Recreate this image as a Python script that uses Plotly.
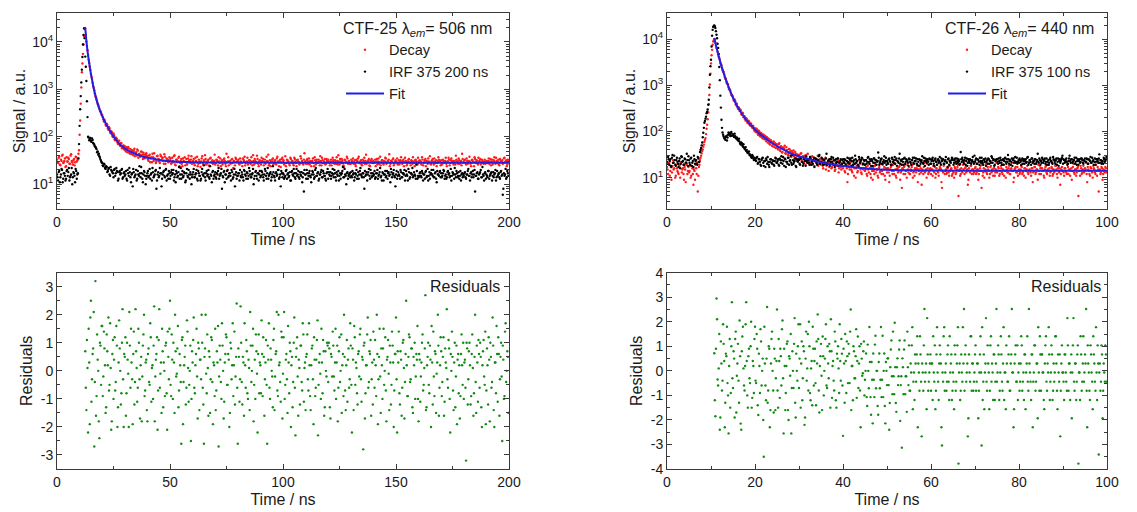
import plotly.graph_objects as go

# ---------------- CTF-25 (200 ns window) ----------------
# even channels
t_25 = [
    0, 0.5, 1, 1.5, 2, 2.5, 3, 3.5, 4, 4.5, 5, 5.5, 6, 6.5, 7, 7.5, 8, 8.5, 9, 9.5,
    10, 10.5, 11, 11.5, 12, 12.5, 13, 13.5, 14, 14.5, 15, 15.5, 16, 16.5, 17, 17.5, 18, 18.5, 19, 19.5,
    20, 20.5, 21, 21.5, 22, 22.5, 23, 23.5, 24, 24.5, 25, 25.5, 26, 26.5, 27, 27.5, 28, 28.5, 29, 29.5,
    30, 30.5, 31, 31.5, 32, 32.5, 33, 33.5, 34, 34.5, 35, 35.5, 36, 36.5, 37, 37.5, 38, 38.5, 39, 39.5,
    40, 40.5, 41, 41.5, 42, 42.5, 43, 43.5, 44, 44.5, 45, 45.5, 46, 46.5, 47, 47.5, 48, 48.5, 49, 49.5,
    50, 50.5, 51, 51.5, 52, 52.5, 53, 53.5, 54, 54.5, 55, 55.5, 56, 56.5, 57, 57.5, 58, 58.5, 59, 59.5,
    60, 60.5, 61, 61.5, 62, 62.5, 63, 63.5, 64, 64.5, 65, 65.5, 66, 66.5, 67, 67.5, 68, 68.5, 69, 69.5,
    70, 70.5, 71, 71.5, 72, 72.5, 73, 73.5, 74, 74.5, 75, 75.5, 76, 76.5, 77, 77.5, 78, 78.5, 79, 79.5,
    80, 80.5, 81, 81.5, 82, 82.5, 83, 83.5, 84, 84.5, 85, 85.5, 86, 86.5, 87, 87.5, 88, 88.5, 89, 89.5,
    90, 90.5, 91, 91.5, 92, 92.5, 93, 93.5, 94, 94.5, 95, 95.5, 96, 96.5, 97, 97.5, 98, 98.5, 99, 99.5,
    100, 100.5, 101, 101.5, 102, 102.5, 103, 103.5, 104, 104.5, 105, 105.5, 106, 106.5, 107, 107.5, 108, 108.5, 109, 109.5,
    110, 110.5, 111, 111.5, 112, 112.5, 113, 113.5, 114, 114.5, 115, 115.5, 116, 116.5, 117, 117.5, 118, 118.5, 119, 119.5,
    120, 120.5, 121, 121.5, 122, 122.5, 123, 123.5, 124, 124.5, 125, 125.5, 126, 126.5, 127, 127.5, 128, 128.5, 129, 129.5,
    130, 130.5, 131, 131.5, 132, 132.5, 133, 133.5, 134, 134.5, 135, 135.5, 136, 136.5, 137, 137.5, 138, 138.5, 139, 139.5,
    140, 140.5, 141, 141.5, 142, 142.5, 143, 143.5, 144, 144.5, 145, 145.5, 146, 146.5, 147, 147.5, 148, 148.5, 149, 149.5,
    150, 150.5, 151, 151.5, 152, 152.5, 153, 153.5, 154, 154.5, 155, 155.5, 156, 156.5, 157, 157.5, 158, 158.5, 159, 159.5,
    160, 160.5, 161, 161.5, 162, 162.5, 163, 163.5, 164, 164.5, 165, 165.5, 166, 166.5, 167, 167.5, 168, 168.5, 169, 169.5,
    170, 170.5, 171, 171.5, 172, 172.5, 173, 173.5, 174, 174.5, 175, 175.5, 176, 176.5, 177, 177.5, 178, 178.5, 179, 179.5,
    180, 180.5, 181, 181.5, 182, 182.5, 183, 183.5, 184, 184.5, 185, 185.5, 186, 186.5, 187, 187.5, 188, 188.5, 189, 189.5,
    190, 190.5, 191, 191.5, 192, 192.5, 193, 193.5, 194, 194.5, 195, 195.5, 196, 196.5, 197, 197.5, 198, 198.5, 199, 199.5,
]
# odd channels
t_25_mid = [
    0.25, 0.75, 1.25, 1.75, 2.25, 2.75, 3.25, 3.75, 4.25, 4.75, 5.25, 5.75, 6.25, 6.75, 7.25, 7.75, 8.25, 8.75, 9.25, 9.75,
    10.25, 10.75, 11.25, 11.75, 12.25, 12.75, 13.25, 13.75, 14.25, 14.75, 15.25, 15.75, 16.25, 16.75, 17.25, 17.75, 18.25, 18.75, 19.25, 19.75,
    20.25, 20.75, 21.25, 21.75, 22.25, 22.75, 23.25, 23.75, 24.25, 24.75, 25.25, 25.75, 26.25, 26.75, 27.25, 27.75, 28.25, 28.75, 29.25, 29.75,
    30.25, 30.75, 31.25, 31.75, 32.25, 32.75, 33.25, 33.75, 34.25, 34.75, 35.25, 35.75, 36.25, 36.75, 37.25, 37.75, 38.25, 38.75, 39.25, 39.75,
    40.25, 40.75, 41.25, 41.75, 42.25, 42.75, 43.25, 43.75, 44.25, 44.75, 45.25, 45.75, 46.25, 46.75, 47.25, 47.75, 48.25, 48.75, 49.25, 49.75,
    50.25, 50.75, 51.25, 51.75, 52.25, 52.75, 53.25, 53.75, 54.25, 54.75, 55.25, 55.75, 56.25, 56.75, 57.25, 57.75, 58.25, 58.75, 59.25, 59.75,
    60.25, 60.75, 61.25, 61.75, 62.25, 62.75, 63.25, 63.75, 64.25, 64.75, 65.25, 65.75, 66.25, 66.75, 67.25, 67.75, 68.25, 68.75, 69.25, 69.75,
    70.25, 70.75, 71.25, 71.75, 72.25, 72.75, 73.25, 73.75, 74.25, 74.75, 75.25, 75.75, 76.25, 76.75, 77.25, 77.75, 78.25, 78.75, 79.25, 79.75,
    80.25, 80.75, 81.25, 81.75, 82.25, 82.75, 83.25, 83.75, 84.25, 84.75, 85.25, 85.75, 86.25, 86.75, 87.25, 87.75, 88.25, 88.75, 89.25, 89.75,
    90.25, 90.75, 91.25, 91.75, 92.25, 92.75, 93.25, 93.75, 94.25, 94.75, 95.25, 95.75, 96.25, 96.75, 97.25, 97.75, 98.25, 98.75, 99.25, 99.75,
    100.25, 100.75, 101.25, 101.75, 102.25, 102.75, 103.25, 103.75, 104.25, 104.75, 105.25, 105.75, 106.25, 106.75, 107.25, 107.75, 108.25, 108.75, 109.25, 109.75,
    110.25, 110.75, 111.25, 111.75, 112.25, 112.75, 113.25, 113.75, 114.25, 114.75, 115.25, 115.75, 116.25, 116.75, 117.25, 117.75, 118.25, 118.75, 119.25, 119.75,
    120.25, 120.75, 121.25, 121.75, 122.25, 122.75, 123.25, 123.75, 124.25, 124.75, 125.25, 125.75, 126.25, 126.75, 127.25, 127.75, 128.25, 128.75, 129.25, 129.75,
    130.25, 130.75, 131.25, 131.75, 132.25, 132.75, 133.25, 133.75, 134.25, 134.75, 135.25, 135.75, 136.25, 136.75, 137.25, 137.75, 138.25, 138.75, 139.25, 139.75,
    140.25, 140.75, 141.25, 141.75, 142.25, 142.75, 143.25, 143.75, 144.25, 144.75, 145.25, 145.75, 146.25, 146.75, 147.25, 147.75, 148.25, 148.75, 149.25, 149.75,
    150.25, 150.75, 151.25, 151.75, 152.25, 152.75, 153.25, 153.75, 154.25, 154.75, 155.25, 155.75, 156.25, 156.75, 157.25, 157.75, 158.25, 158.75, 159.25, 159.75,
    160.25, 160.75, 161.25, 161.75, 162.25, 162.75, 163.25, 163.75, 164.25, 164.75, 165.25, 165.75, 166.25, 166.75, 167.25, 167.75, 168.25, 168.75, 169.25, 169.75,
    170.25, 170.75, 171.25, 171.75, 172.25, 172.75, 173.25, 173.75, 174.25, 174.75, 175.25, 175.75, 176.25, 176.75, 177.25, 177.75, 178.25, 178.75, 179.25, 179.75,
    180.25, 180.75, 181.25, 181.75, 182.25, 182.75, 183.25, 183.75, 184.25, 184.75, 185.25, 185.75, 186.25, 186.75, 187.25, 187.75, 188.25, 188.75, 189.25, 189.75,
    190.25, 190.75, 191.25, 191.75, 192.25, 192.75, 193.25, 193.75, 194.25, 194.75, 195.25, 195.75, 196.25, 196.75, 197.25, 197.75, 198.25, 198.75, 199.25, 199.75,
]

decay_25 = [
    33, 28, 38, 25, 31, 42, 29, 35, 24, 30, 36, 27, 40, 31, 26, 34, 29, 37, 32, 44,
    110, 500, 2300, 5600, 13000, 19500, 10200, 6700, 4200, 3050, 2100, 1650, 1170, 960, 720, 610, 490, 430, 350, 320,
    290, 232, 228, 180, 188, 150, 162, 128, 131, 104, 118, 88, 97, 90, 70, 83, 64, 74, 58, 66,
    63, 49, 58, 61, 46, 55, 43, 52, 50, 39, 47, 54, 36, 44, 41, 48, 34, 42, 39, 45,
    38, 31, 42, 35, 29, 37, 45, 33, 30, 40, 34, 28, 39, 36, 31, 43, 27, 35, 33, 30,
    32, 27, 36, 29, 41, 25, 33, 30, 38, 28, 34, 24, 31, 37, 29, 26, 35, 32, 28, 39,
    29, 34, 25, 31, 38, 27, 30, 23, 35, 28, 32, 41, 26, 30, 33, 24, 36, 29, 27, 31,
    26, 33, 30, 37, 28, 24, 32, 29, 35, 27, 44, 30, 25, 31, 28, 34, 22, 30, 36, 29,
    31, 27, 35, 29, 24, 33, 38, 28, 30, 26, 32, 29, 37, 25, 31, 34, 28, 40, 27, 30,
    28, 36, 30, 25, 33, 29, 31, 42, 27, 24, 30, 35, 28, 32, 26, 38, 29, 31, 23, 34,
    30, 26, 39, 28, 32, 29, 25, 34, 31, 27, 36, 30, 24, 33, 29, 28, 35, 31, 26, 45,
    29, 32, 27, 35, 30, 24, 31, 28, 37, 26, 33, 29, 30, 39, 25, 32, 28, 34, 27, 31,
    33, 28, 30, 25, 36, 29, 32, 27, 31, 41, 26, 30, 34, 28, 23, 32, 29, 35, 30, 27,
    27, 31, 35, 29, 26, 33, 30, 38, 28, 32, 25, 29, 36, 31, 27, 30, 34, 24, 32, 29,
    31, 29, 24, 34, 30, 27, 38, 29, 32, 26, 30, 35, 28, 31, 43, 27, 30, 33, 25, 29,
    30, 35, 28, 26, 32, 29, 31, 24, 36, 30, 27, 33, 29, 25, 31, 37, 28, 32, 30, 26,
    28, 32, 30, 37, 25, 29, 34, 31, 27, 30, 39, 26, 32, 29, 35, 28, 24, 31, 33, 30,
    32, 27, 31, 29, 36, 24, 30, 33, 28, 35, 29, 26, 31, 40, 30, 27, 32, 29, 25, 34,
    29, 33, 26, 31, 30, 38, 27, 32, 29, 24, 34, 30, 28, 36, 31, 26, 33, 29, 30, 27,
    31, 28, 35, 30, 25, 33, 29, 37, 27, 31, 30, 26, 34, 29, 32, 28, 36, 30, 24, 33,
]
decay_25_mid = [
    29, 36, 26, 33, 40, 28, 31, 23, 37, 30, 34, 27, 43, 29, 32, 25, 38, 30, 35, 52,
    220, 1100, 3500, 8800, 18500, 14000, 8200, 5300, 3600, 2550, 1850, 1380, 1080, 820, 680, 540, 470, 390, 345, 290,
    262, 210, 214, 171, 180, 141, 151, 118, 125, 99, 108, 84, 93, 76, 82, 67, 73, 57, 65, 54,
    52, 60, 47, 57, 44, 53, 49, 41, 56, 45, 40, 51, 43, 38, 49, 42, 46, 35, 43, 40,
    33, 40, 29, 37, 44, 31, 35, 28, 39, 33, 30, 42, 32, 36, 27, 38, 31, 34, 29, 37,
    35, 28, 31, 39, 26, 33, 29, 36, 24, 31, 27, 35, 30, 25, 34, 28, 40, 30, 33, 27,
    31, 27, 36, 29, 24, 33, 28, 30, 39, 26, 30, 34, 27, 31, 25, 35, 29, 32, 28, 42,
    28, 32, 25, 30, 35, 29, 26, 33, 31, 24, 29, 37, 30, 27, 33, 28, 31, 25, 34, 30,
    33, 26, 30, 28, 35, 31, 25, 29, 36, 28, 32, 27, 30, 41, 26, 31, 29, 34, 24, 32,
    26, 31, 34, 29, 27, 38, 30, 25, 32, 29, 33, 26, 31, 28, 35, 30, 24, 33, 29, 36,
    32, 28, 24, 33, 30, 27, 36, 29, 31, 25, 34, 28, 32, 30, 26, 39, 29, 27, 33, 30,
    27, 34, 30, 26, 31, 29, 35, 24, 32, 30, 28, 33, 25, 31, 36, 28, 30, 26, 34, 29,
    30, 25, 33, 29, 32, 27, 31, 37, 26, 30, 34, 28, 31, 25, 33, 29, 38, 27, 31, 28,
    33, 29, 27, 32, 24, 31, 35, 28, 30, 26, 33, 31, 27, 42, 29, 32, 25, 30, 34, 28,
    28, 33, 30, 26, 35, 29, 25, 32, 28, 31, 36, 27, 30, 33, 24, 31, 29, 35, 27, 32,
    29, 26, 32, 30, 37, 27, 33, 29, 31, 25, 30, 34, 28, 32, 27, 30, 24, 33, 29, 36,
    31, 29, 26, 33, 28, 32, 24, 30, 35, 29, 27, 31, 34, 26, 30, 32, 28, 37, 30, 25,
    26, 33, 29, 31, 27, 30, 36, 25, 32, 29, 31, 28, 26, 33, 30, 35, 27, 31, 44, 29,
    32, 28, 35, 27, 31, 29, 24, 33, 30, 37, 28, 32, 26, 30, 34, 29, 31, 27, 33, 30,
    28, 31, 27, 34, 30, 26, 32, 29, 36, 28, 33, 25, 31, 30, 27, 35, 29, 32, 26, 31,
]

irf_25 = [
    16, 12, 19, 14, 21, 11, 17, 15, 13, 20, 18, 12, 15, 22, 14, 17, 11, 19, 16, 35,
    170, 720, 2600, 8800, 19500, 4900, 1500, 260, 96, 88, 82, 92, 74, 68, 61, 55, 49, 44, 36, 31,
    28, 24, 26, 21, 23, 19, 22, 15, 20, 18, 14, 21, 17, 19, 12, 18, 16, 20, 13, 17,
    15, 19, 12, 17, 22, 14, 16, 9, 18, 15, 20, 13, 16, 24, 14, 17, 11, 19, 15, 13,
    17, 14, 21, 16, 12, 18, 15, 19, 8, 16, 14, 22, 17, 13, 18, 15, 20, 12, 16, 19,
    13, 18, 16, 20, 14, 11, 17, 15, 23, 16, 13, 19, 15, 17, 12, 21, 14, 16, 18, 10,
    16, 21, 14, 17, 13, 19, 15, 12, 18, 16, 25, 14, 17, 15, 20, 13, 16, 11, 19, 15,
    18, 13, 16, 22, 15, 17, 8, 14, 19, 16, 13, 20, 15, 17, 12, 18, 14, 21, 16, 13,
    15, 17, 20, 14, 16, 12, 19, 15, 18, 13, 22, 16, 14, 17, 10, 15, 19, 13, 17, 16,
    14, 19, 16, 12, 21, 15, 17, 13, 16, 18, 14, 24, 15, 12, 18, 16, 20, 14, 9, 17,
    17, 13, 15, 20, 16, 14, 18, 12, 19, 15, 17, 13, 21, 16, 14, 18, 15, 11, 17, 20,
    16, 20, 13, 17, 15, 11, 19, 16, 14, 22, 15, 18, 13, 16, 20, 14, 17, 15, 12, 18,
    13, 16, 18, 15, 21, 14, 17, 12, 16, 19, 15, 13, 17, 23, 14, 16, 10, 18, 15, 17,
    18, 14, 16, 12, 17, 20, 15, 13, 19, 16, 14, 17, 8, 15, 18, 16, 21, 13, 17, 15,
    15, 19, 14, 17, 13, 16, 22, 15, 18, 12, 16, 14, 19, 17, 15, 11, 18, 16, 20, 14,
    16, 13, 18, 15, 20, 14, 17, 16, 12, 19, 15, 21, 13, 17, 16, 14, 18, 15, 26, 13,
    14, 17, 15, 19, 12, 16, 18, 14, 21, 15, 13, 17, 16, 20, 14, 18, 11, 16, 15, 19,
    17, 15, 20, 13, 16, 14, 19, 17, 15, 12, 18, 16, 22, 14, 17, 15, 13, 19, 16, 14,
    15, 18, 13, 16, 21, 15, 17, 14, 19, 16, 7, 15, 18, 13, 17, 20, 14, 16, 12, 18,
    16, 14, 19, 15, 17, 12, 18, 16, 20, 14, 15, 17, 13, 19, 16, 8, 15, 21, 14, 17,
]
irf_25_mid = [
    14, 18, 11, 16, 20, 13, 17, 12, 19, 15, 22, 14, 16, 10, 18, 15, 21, 13, 17, 70,
    380, 1400, 4800, 14000, 12000, 3000, 560, 100, 84, 95, 78, 86, 71, 63, 58, 47, 42, 39, 33, 29,
    25, 27, 22, 24, 18, 21, 16, 23, 19, 17, 20, 15, 22, 18, 13, 19, 17, 21, 14, 18,
    16, 13, 20, 15, 18, 11, 17, 21, 14, 16, 12, 19, 15, 17, 23, 13, 16, 18, 10, 15,
    19, 15, 13, 17, 22, 14, 16, 20, 12, 18, 15, 17, 9, 16, 19, 14, 21, 15, 13, 17,
    15, 20, 17, 12, 16, 19, 14, 18, 13, 22, 16, 14, 18, 11, 17, 15, 20, 13, 16, 14,
    18, 14, 16, 20, 12, 17, 15, 13, 21, 15, 17, 12, 19, 16, 14, 24, 15, 18, 13, 16,
    14, 17, 19, 13, 16, 21, 15, 18, 11, 16, 19, 14, 17, 15, 20, 13, 16, 9, 18, 15,
    17, 12, 15, 18, 14, 20, 16, 13, 17, 15, 19, 14, 16, 21, 13, 18, 15, 17, 12, 19,
    15, 18, 14, 16, 19, 13, 22, 15, 17, 12, 16, 18, 14, 17, 15, 20, 13, 16, 19, 14,
    16, 14, 19, 13, 17, 15, 12, 18, 16, 21, 14, 17, 15, 19, 13, 16, 18, 14, 7, 16,
    13, 17, 15, 19, 14, 16, 18, 13, 20, 15, 17, 12, 16, 18, 14, 19, 15, 13, 17, 21,
    18, 15, 13, 17, 16, 20, 14, 18, 15, 12, 17, 16, 19, 14, 21, 15, 17, 13, 16, 14,
    15, 19, 17, 14, 16, 13, 18, 16, 22, 15, 17, 14, 19, 16, 12, 18, 15, 20, 14, 17,
    16, 13, 17, 20, 15, 18, 14, 12, 17, 16, 19, 15, 13, 18, 16, 21, 14, 17, 15, 9,
    19, 15, 16, 13, 18, 14, 17, 20, 15, 16, 12, 18, 14, 17, 22, 15, 16, 13, 19, 15,
    15, 18, 14, 17, 16, 13, 19, 15, 12, 18, 16, 20, 15, 14, 17, 13, 19, 16, 18, 14,
    14, 17, 19, 15, 13, 18, 16, 14, 21, 15, 17, 13, 16, 19, 14, 18, 15, 12, 17, 16,
    17, 14, 16, 19, 15, 12, 18, 16, 14, 20, 15, 17, 13, 16, 18, 14, 23, 15, 17, 13,
    15, 19, 13, 16, 18, 15, 14, 17, 12, 19, 16, 14, 18, 15, 6, 17, 16, 13, 19, 15,
]

# weighted residuals from the first fitted channel onward (12.5 ns / 12.75 ns)
res_25 = [
    0.7, -1.4, 0.1, 1.5, -1.9, 2.5, -0.3, 0.8, -2.7, 3.2, -0.9, 0.4, -1.8, 1.0, -0.5,
    1.6, -0.2, 0.8, -1.5, 1.3, 0.2, -0.7, 1.7, -2.1, 0.6, -1.0, 1.2, -0.4, 0.9, -1.3, 1.8, 0.0, -0.8, 2.2, -2.0,
    0.5, -1.6, 1.0, -0.1, 2.1, -0.6, 0.3, -1.9, 1.4, -0.4, 0.7, -1.1, 1.5, -0.3, 0.2, -1.8, 0.9, 2.0, -0.7, 0.4,
    -1.8, 0.8, -0.5, 1.2, 0.1, -1.0, 2.3, -0.2, 0.6, -2.1, 1.1, -0.6, 0.3, 1.5, -1.3, 0.0, 0.9, -0.8, 1.4, -0.3,
    2.5, -0.9, 0.4, 1.0, -1.5, 0.7, -0.1, 1.6, -0.7, 0.2, -2.6, 1.2, -0.4, 0.5, -1.2, 1.8, 0.1, -0.5, 0.9, -1.0,
    0.3, 1.9, -0.8, 0.6, -0.2, 1.0, -1.4, 0.4, 2.0, -0.6, -2.6, 0.8, -0.1, 1.3, -1.6, 0.5, -0.3, 1.1, -1.9, 0.2,
    1.5, -0.7, 0.3, -2.7, 0.9, -0.4, 1.7, 0.0, -1.1, 0.6, 1.2, -0.5, 0.4, -1.5, 0.8, 0.2, -0.9, 1.4, -0.2, 2.4,
    -2.6, 0.5, -0.3, 1.0, -1.2, 0.3, 1.7, -0.6, 0.7, -1.0, 0.1, 2.1, -0.4, 0.9, -1.8, 0.4, 1.3, -0.1, 0.6, -0.8,
    0.2, 1.8, -0.9, 0.5, -0.3, 1.1, -2.6, 0.4, -0.6, 0.8, 0.0, -1.3, 1.5, -0.2, 0.7, -0.7, 2.0, 0.3, -1.1, 1.2,
    -0.1, 2.1, -0.5, 0.6, -1.5, 0.3, 1.0, -2.0, 0.5, -0.4, 1.9, -2.3, 0.8, -0.2, 0.4, -1.2, 0.9, -0.7, 1.3, 0.1,
    -1.4, 0.6, -0.3, 1.7, -0.9, 0.2, 0.9, -1.9, 0.4, -0.6, 1.1, -2.3, 0.3, -0.1, 1.5, -0.8, 0.7, -1.3, 0.0, 1.0,
    -0.4, 0.8, -1.7, 0.5, 1.4, -0.2, 0.3, -1.0, 0.9, -0.6, 1.2, 0.0, -1.5, 0.6, 2.0, -0.7, 0.2, -1.1, 0.8, -0.3,
    0.9, -2.2, 0.4, 1.6, -0.5, 0.1, -1.2, 0.7, 1.3, -0.3, 0.5, -2.8, 1.0, -0.8, 0.2, 1.9, -0.4, 0.6, -1.6, 0.3,
    1.4, -0.6, 0.2, 2.0, -1.9, 0.5, -0.2, 0.8, -1.0, 1.5, 0.0, -0.7, 0.4, 1.1, -1.4, 0.3, -0.5, 0.9, -2.0, 0.6,
    1.9, -2.2, 0.3, -0.8, 0.7, -1.6, 1.0, 0.1, -0.4, 2.5, -0.9, 0.5, 1.2, -0.3, 0.8, -1.5, 0.2, -1.0, 0.6, 1.6,
    -1.8, 0.4, -0.2, 1.0, -0.7, 0.1, 2.7, -1.3, 0.5, -0.5, 0.9, -2.0, 0.3, 1.4, -0.9, 0.6, -0.1, 2.0, -1.6, 0.2,
    0.7, -0.4, 1.2, -1.1, 0.3, 2.2, -0.6, 0.8, -2.2, 0.0, 0.5, -1.4, 1.0, -0.2, -1.9, 0.6, 0.2, -0.9, 1.3, -0.5,
    -1.0, 0.4, -3.2, 0.8, -0.3, 1.0, -1.2, 0.6, 0.1, -0.8, 2.0, -1.5, 0.3, 1.1, -0.6, 0.5, -2.0, 0.7, -0.2, 1.4,
    -0.7, 0.2, 1.2, -1.8, 0.5, -0.4, 0.9, -2.0, 0.3, 1.6, -1.1, 0.6, -0.3, 1.0, -2.5, 0.4, -0.9, 1.7, 0.0, 0.5,
]
res_25_mid = [
    -0.6, 1.1, -2.2, 0.3, 1.9, -1.1, 0.6, 2.1, -0.4, -1.6, 1.3, 0.0, -2.4, 0.9, 1.6,
    -0.9, 1.4, 0.2, -1.3, 0.7, 1.9, -0.5, 0.1, -1.8, 1.1, 0.4, -0.7, 1.6, -2.0, 0.3, 0.8, -1.2, 1.0, -0.3, 0.6,
    1.2, -0.8, 0.4, -2.0, 0.9, 1.5, -0.3, 0.6, -1.2, 2.2, 0.1, -0.6, 1.0, -1.7, 0.5, -0.2, 1.3, -0.9, 0.3, -1.4,
    0.6, -0.4, 1.7, -1.1, 0.2, 0.9, -1.8, 0.4, 1.2, -0.7, 2.2, -0.1, -1.5, 0.7, 0.3, -0.9, 1.0, -2.1, 0.5, 1.5,
    -0.5, 1.3, -1.0, 0.3, 2.0, -0.2, 0.8, -1.3, 0.6, -0.4, 1.1, -1.9, 0.2, 0.9, -0.6, 1.4, -1.1, 0.0, -2.5, 0.7,
    1.1, -0.6, 0.2, 1.5, -1.7, 0.8, 0.4, -0.3, 1.0, -1.2, 0.5, 2.0, -0.8, 0.1, 0.7, -1.5, 1.2, -0.4, 0.3, -0.9,
    -1.4, 0.7, 1.6, -0.2, 0.4, -1.0, 0.9, -1.7, 0.3, 1.3, -0.5, 0.6, -2.0, 1.0, -0.3, 1.7, 0.2, -1.2, 0.5, -0.6,
    0.8, -1.1, 2.3, -0.4, 0.5, -1.6, 0.2, 1.1, -0.8, 0.4, -1.4, 0.9, 0.0, 1.5, -0.5, -1.0, 0.7, -2.2, 1.3, 0.3,
    -0.8, 0.6, 1.2, -1.6, 0.3, -0.5, 0.9, 1.7, -1.0, 0.4, -0.2, 1.1, -1.4, 0.6, 2.1, -0.9, 0.2, -0.4, 1.4, -1.7,
    1.2, -1.0, 0.4, -0.3, 1.6, -0.8, 0.7, 0.2, -1.3, 1.0, -0.6, 0.5, 1.2, -1.6, 0.1, 0.9, -0.4, 1.7, -1.1, 0.3,
    0.5, 1.3, -0.7, 0.2, -1.4, 0.8, -0.3, 1.2, -0.9, 0.4, 1.8, -0.5, 0.6, -1.0, 0.3, 1.1, -1.6, 0.7, -0.2, 0.9,
    1.0, -1.3, 0.6, -0.2, 0.9, -0.7, 1.5, 0.3, -1.8, 0.7, -0.4, 1.3, 0.2, -0.9, 0.5, -1.4, 1.1, 0.4, -0.6, 1.7,
    -0.5, 0.8, -1.4, 1.2, 0.3, -0.8, 0.6, -0.2, 1.5, -1.1, 0.4, 0.9, -1.7, 0.2, 1.3, -0.6, 0.7, 1.1, -0.3, -1.2,
    0.4, 1.1, -0.9, 0.6, -0.3, 1.5, -1.5, 0.2, 0.8, -0.5, 1.2, -1.8, 0.5, -0.1, 0.9, -1.2, 1.4, 0.3, -0.7, 0.6,
    -0.3, 0.7, 1.4, -1.2, 0.4, -0.6, 1.1, -1.7, 0.6, 0.2, -0.9, 1.3, -0.4, 0.8, -1.3, 0.5, 1.0, -0.2, 0.4, -1.0,
    0.6, -1.1, 0.3, 1.3, -0.5, 0.8, -1.4, 0.2, 1.0, -0.8, 0.4, 1.6, -1.2, -0.2, 0.7, -1.5, 0.3, 0.9, -0.6, 1.2,
    -0.9, 0.5, -1.6, 0.8, 0.1, -0.3, 1.1, -1.0, 0.6, 1.4, -0.7, 0.3, -1.3, 0.9, 0.4, -0.8, -1.7, 0.6, 0.2, 1.0,
    0.3, -0.6, 1.0, -1.2, 0.7, 0.2, -0.9, 1.3, -1.6, 0.5, -0.4, 0.9, -1.1, 0.6, 1.0, -1.3, 0.2, 1.1, -0.5, -1.9,
    0.8, -1.2, 0.4, 1.0, -0.6, 1.9, -1.4, 0.3, -0.8, 0.6, 1.2, -1.6, 0.5, -0.2, 0.9, -1.0, 1.4, -0.4, 0.7, -1.5,
]

fit_t_25 = [12.2, 12.5, 13, 13.5, 14, 14.5, 15, 15.5, 16, 16.5, 17, 17.5, 18, 18.5, 19, 20, 21, 22, 23, 24,
            25, 26, 27, 28, 30, 32, 34, 36, 38, 40, 43, 46, 50, 55, 60, 70, 80, 100, 130, 160, 200]
fit_25 = [20500, 19000, 10500, 6500, 4300, 3000, 2150, 1600, 1200, 930, 740, 600, 500, 420, 360, 275, 215, 175, 145, 120,
          102, 88, 77, 68, 57, 50, 45, 41, 38, 36, 34, 32, 30.5, 29.5, 29, 28.7, 28.6, 28.5, 28.4, 28.4, 28.4]

# ---------------- CTF-26 (100 ns window) ----------------
t_26 = [
    0, 0.25, 0.5, 0.75, 1, 1.25, 1.5, 1.75, 2, 2.25, 2.5, 2.75, 3, 3.25, 3.5, 3.75, 4, 4.25, 4.5, 4.75,
    5, 5.25, 5.5, 5.75, 6, 6.25, 6.5, 6.75, 7, 7.25, 7.5, 7.75, 8, 8.25, 8.5, 8.75, 9, 9.25, 9.5, 9.75,
    10, 10.25, 10.5, 10.75, 11, 11.25, 11.5, 11.75, 12, 12.25, 12.5, 12.75, 13, 13.25, 13.5, 13.75, 14, 14.25, 14.5, 14.75,
    15, 15.25, 15.5, 15.75, 16, 16.25, 16.5, 16.75, 17, 17.25, 17.5, 17.75, 18, 18.25, 18.5, 18.75, 19, 19.25, 19.5, 19.75,
    20, 20.25, 20.5, 20.75, 21, 21.25, 21.5, 21.75, 22, 22.25, 22.5, 22.75, 23, 23.25, 23.5, 23.75, 24, 24.25, 24.5, 24.75,
    25, 25.25, 25.5, 25.75, 26, 26.25, 26.5, 26.75, 27, 27.25, 27.5, 27.75, 28, 28.25, 28.5, 28.75, 29, 29.25, 29.5, 29.75,
    30, 30.25, 30.5, 30.75, 31, 31.25, 31.5, 31.75, 32, 32.25, 32.5, 32.75, 33, 33.25, 33.5, 33.75, 34, 34.25, 34.5, 34.75,
    35, 35.25, 35.5, 35.75, 36, 36.25, 36.5, 36.75, 37, 37.25, 37.5, 37.75, 38, 38.25, 38.5, 38.75, 39, 39.25, 39.5, 39.75,
    40, 40.25, 40.5, 40.75, 41, 41.25, 41.5, 41.75, 42, 42.25, 42.5, 42.75, 43, 43.25, 43.5, 43.75, 44, 44.25, 44.5, 44.75,
    45, 45.25, 45.5, 45.75, 46, 46.25, 46.5, 46.75, 47, 47.25, 47.5, 47.75, 48, 48.25, 48.5, 48.75, 49, 49.25, 49.5, 49.75,
    50, 50.25, 50.5, 50.75, 51, 51.25, 51.5, 51.75, 52, 52.25, 52.5, 52.75, 53, 53.25, 53.5, 53.75, 54, 54.25, 54.5, 54.75,
    55, 55.25, 55.5, 55.75, 56, 56.25, 56.5, 56.75, 57, 57.25, 57.5, 57.75, 58, 58.25, 58.5, 58.75, 59, 59.25, 59.5, 59.75,
    60, 60.25, 60.5, 60.75, 61, 61.25, 61.5, 61.75, 62, 62.25, 62.5, 62.75, 63, 63.25, 63.5, 63.75, 64, 64.25, 64.5, 64.75,
    65, 65.25, 65.5, 65.75, 66, 66.25, 66.5, 66.75, 67, 67.25, 67.5, 67.75, 68, 68.25, 68.5, 68.75, 69, 69.25, 69.5, 69.75,
    70, 70.25, 70.5, 70.75, 71, 71.25, 71.5, 71.75, 72, 72.25, 72.5, 72.75, 73, 73.25, 73.5, 73.75, 74, 74.25, 74.5, 74.75,
    75, 75.25, 75.5, 75.75, 76, 76.25, 76.5, 76.75, 77, 77.25, 77.5, 77.75, 78, 78.25, 78.5, 78.75, 79, 79.25, 79.5, 79.75,
    80, 80.25, 80.5, 80.75, 81, 81.25, 81.5, 81.75, 82, 82.25, 82.5, 82.75, 83, 83.25, 83.5, 83.75, 84, 84.25, 84.5, 84.75,
    85, 85.25, 85.5, 85.75, 86, 86.25, 86.5, 86.75, 87, 87.25, 87.5, 87.75, 88, 88.25, 88.5, 88.75, 89, 89.25, 89.5, 89.75,
    90, 90.25, 90.5, 90.75, 91, 91.25, 91.5, 91.75, 92, 92.25, 92.5, 92.75, 93, 93.25, 93.5, 93.75, 94, 94.25, 94.5, 94.75,
    95, 95.25, 95.5, 95.75, 96, 96.25, 96.5, 96.75, 97, 97.25, 97.5, 97.75, 98, 98.25, 98.5, 98.75, 99, 99.25, 99.5, 99.75,
]
t_26_mid = [
    0.125, 0.375, 0.625, 0.875, 1.125, 1.375, 1.625, 1.875, 2.125, 2.375, 2.625, 2.875, 3.125, 3.375, 3.625, 3.875, 4.125, 4.375, 4.625, 4.875,
    5.125, 5.375, 5.625, 5.875, 6.125, 6.375, 6.625, 6.875, 7.125, 7.375, 7.625, 7.875, 8.125, 8.375, 8.625, 8.875, 9.125, 9.375, 9.625, 9.875,
    10.125, 10.375, 10.625, 10.875, 11.125, 11.375, 11.625, 11.875, 12.125, 12.375, 12.625, 12.875, 13.125, 13.375, 13.625, 13.875, 14.125, 14.375, 14.625, 14.875,
    15.125, 15.375, 15.625, 15.875, 16.125, 16.375, 16.625, 16.875, 17.125, 17.375, 17.625, 17.875, 18.125, 18.375, 18.625, 18.875, 19.125, 19.375, 19.625, 19.875,
    20.125, 20.375, 20.625, 20.875, 21.125, 21.375, 21.625, 21.875, 22.125, 22.375, 22.625, 22.875, 23.125, 23.375, 23.625, 23.875, 24.125, 24.375, 24.625, 24.875,
    25.125, 25.375, 25.625, 25.875, 26.125, 26.375, 26.625, 26.875, 27.125, 27.375, 27.625, 27.875, 28.125, 28.375, 28.625, 28.875, 29.125, 29.375, 29.625, 29.875,
    30.125, 30.375, 30.625, 30.875, 31.125, 31.375, 31.625, 31.875, 32.125, 32.375, 32.625, 32.875, 33.125, 33.375, 33.625, 33.875, 34.125, 34.375, 34.625, 34.875,
    35.125, 35.375, 35.625, 35.875, 36.125, 36.375, 36.625, 36.875, 37.125, 37.375, 37.625, 37.875, 38.125, 38.375, 38.625, 38.875, 39.125, 39.375, 39.625, 39.875,
    40.125, 40.375, 40.625, 40.875, 41.125, 41.375, 41.625, 41.875, 42.125, 42.375, 42.625, 42.875, 43.125, 43.375, 43.625, 43.875, 44.125, 44.375, 44.625, 44.875,
    45.125, 45.375, 45.625, 45.875, 46.125, 46.375, 46.625, 46.875, 47.125, 47.375, 47.625, 47.875, 48.125, 48.375, 48.625, 48.875, 49.125, 49.375, 49.625, 49.875,
    50.125, 50.375, 50.625, 50.875, 51.125, 51.375, 51.625, 51.875, 52.125, 52.375, 52.625, 52.875, 53.125, 53.375, 53.625, 53.875, 54.125, 54.375, 54.625, 54.875,
    55.125, 55.375, 55.625, 55.875, 56.125, 56.375, 56.625, 56.875, 57.125, 57.375, 57.625, 57.875, 58.125, 58.375, 58.625, 58.875, 59.125, 59.375, 59.625, 59.875,
    60.125, 60.375, 60.625, 60.875, 61.125, 61.375, 61.625, 61.875, 62.125, 62.375, 62.625, 62.875, 63.125, 63.375, 63.625, 63.875, 64.125, 64.375, 64.625, 64.875,
    65.125, 65.375, 65.625, 65.875, 66.125, 66.375, 66.625, 66.875, 67.125, 67.375, 67.625, 67.875, 68.125, 68.375, 68.625, 68.875, 69.125, 69.375, 69.625, 69.875,
    70.125, 70.375, 70.625, 70.875, 71.125, 71.375, 71.625, 71.875, 72.125, 72.375, 72.625, 72.875, 73.125, 73.375, 73.625, 73.875, 74.125, 74.375, 74.625, 74.875,
    75.125, 75.375, 75.625, 75.875, 76.125, 76.375, 76.625, 76.875, 77.125, 77.375, 77.625, 77.875, 78.125, 78.375, 78.625, 78.875, 79.125, 79.375, 79.625, 79.875,
    80.125, 80.375, 80.625, 80.875, 81.125, 81.375, 81.625, 81.875, 82.125, 82.375, 82.625, 82.875, 83.125, 83.375, 83.625, 83.875, 84.125, 84.375, 84.625, 84.875,
    85.125, 85.375, 85.625, 85.875, 86.125, 86.375, 86.625, 86.875, 87.125, 87.375, 87.625, 87.875, 88.125, 88.375, 88.625, 88.875, 89.125, 89.375, 89.625, 89.875,
    90.125, 90.375, 90.625, 90.875, 91.125, 91.375, 91.625, 91.875, 92.125, 92.375, 92.625, 92.875, 93.125, 93.375, 93.625, 93.875, 94.125, 94.375, 94.625, 94.875,
    95.125, 95.375, 95.625, 95.875, 96.125, 96.375, 96.625, 96.875, 97.125, 97.375, 97.625, 97.875, 98.125, 98.375, 98.625, 98.875, 99.125, 99.375, 99.625, 99.875,
]

decay_26 = [
    17, 12, 21, 14, 9, 18, 15, 24, 11, 16, 13, 19, 10, 22, 15, 12, 17, 8, 20, 14,
    13, 18, 11, 16, 7, 14, 19, 12, 5, 17, 24, 30, 38, 47, 60, 72, 115, 185, 390, 1050,
    3000, 5900, 8900, 10200, 8400, 6500, 5400, 4200, 3600, 2900, 2400, 2000, 1750, 1400, 1200, 1080, 900, 820, 690, 610,
    560, 470, 455, 370, 340, 335, 280, 290, 230, 250, 205, 185, 195, 160, 172, 142, 150, 128, 133, 110,
    118, 96, 108, 84, 99, 78, 90, 71, 83, 80, 62, 74, 69, 55, 66, 60, 48, 61, 56, 44,
    52, 41, 56, 38, 47, 36, 44, 49, 33, 40, 31, 42, 37, 28, 35, 39, 26, 33, 30, 24,
    31, 25, 34, 22, 28, 30, 19, 26, 33, 23, 27, 21, 29, 24, 18, 26, 22, 30, 20, 25,
    19, 24, 16, 22, 27, 18, 21, 14, 20, 25, 17, 19, 23, 15, 21, 18, 13, 22, 17, 20,
    16, 21, 13, 18, 8, 19, 15, 22, 14, 17, 11, 20, 16, 13, 18, 24, 15, 12, 19, 16,
    14, 17, 11, 15, 20, 12, 16, 9, 14, 18, 13, 15, 10, 17, 14, 12, 19, 15, 11, 16,
    13, 16, 8, 15, 18, 12, 14, 20, 11, 15, 13, 17, 9, 14, 16, 12, 18, 14, 10, 15,
    17, 12, 14, 19, 13, 11, 15, 16, 8, 14, 18, 13, 15, 12, 21, 14, 10, 16, 13, 15,
    12, 15, 18, 13, 10, 16, 14, 11, 17, 15, 6, 13, 19, 14, 12, 16, 13, 18, 15, 11,
    14, 10, 16, 13, 17, 4, 15, 12, 14, 19, 21, 16, 13, 15, 9, 14, 18, 12, 15, 13,
    16, 12, 15, 9, 14, 18, 6, 11, 16, 14, 20, 12, 15, 10, 17, 13, 14, 16, 11, 15,
    13, 17, 11, 14, 16, 12, 19, 14, 10, 15, 13, 18, 12, 16, 14, 8, 15, 17, 13, 11,
    15, 13, 18, 12, 14, 16, 10, 15, 13, 21, 14, 11, 16, 13, 17, 12, 15, 9, 14, 18,
    12, 16, 14, 10, 17, 13, 15, 19, 11, 14, 16, 12, 13, 18, 15, 10, 14, 16, 12, 17,
    14, 11, 16, 13, 20, 12, 15, 14, 9, 17, 13, 15, 11, 16, 4, 14, 18, 12, 15, 13,
    16, 21, 8, 15, 12, 17, 14, 10, 16, 13, 19, 11, 15, 14, 12, 17, 9, 15, 13, 16,
]
decay_26_mid = [
    15, 20, 11, 17, 13, 24, 16, 10, 19, 14, 12, 18, 21, 13, 16, 9, 15, 19, 12, 17,
    14, 10, 18, 12, 15, 9, 16, 21, 11, 19, 27, 34, 41, 52, 66, 88, 140, 260, 620, 1800,
    4500, 7600, 9400, 9900, 7200, 6200, 4700, 4000, 3050, 2750, 2150, 1950, 1520, 1390, 1110, 1040, 830, 780, 630, 600,
    480, 495, 390, 400, 310, 325, 300, 240, 255, 205, 215, 172, 188, 152, 166, 135, 148, 121, 131, 104,
    100, 115, 88, 104, 80, 93, 74, 86, 68, 79, 75, 58, 70, 52, 64, 50, 59, 46, 55, 53,
    44, 53, 40, 48, 35, 45, 42, 34, 46, 37, 33, 41, 30, 38, 34, 29, 36, 27, 32, 29,
    27, 33, 24, 29, 21, 26, 31, 23, 25, 20, 28, 24, 19, 27, 23, 21, 25, 18, 23, 21,
    22, 18, 25, 19, 15, 21, 24, 17, 20, 16, 22, 19, 14, 21, 18, 23, 16, 19, 15, 18,
    18, 14, 20, 16, 12, 17, 21, 15, 13, 19, 16, 10, 18, 14, 17, 20, 13, 16, 15, 19,
    15, 12, 18, 13, 16, 10, 14, 17, 12, 19, 15, 11, 16, 13, 20, 14, 12, 17, 9, 15,
    16, 13, 11, 17, 14, 19, 12, 15, 10, 16, 14, 18, 13, 6, 15, 17, 12, 14, 19, 13,
    12, 15, 17, 10, 14, 16, 13, 18, 15, 12, 16, 7, 14, 17, 13, 15, 20, 12, 14, 16,
    15, 11, 14, 17, 12, 19, 13, 15, 16, 8, 14, 18, 12, 15, 13, 17, 11, 14, 16, 12,
    13, 17, 12, 15, 19, 14, 11, 16, 13, 15, 12, 17, 14, 7, 16, 13, 18, 15, 12, 14,
    17, 13, 15, 12, 16, 14, 19, 13, 10, 15, 13, 17, 14, 12, 18, 15, 11, 16, 13, 21,
    14, 16, 12, 18, 13, 15, 11, 14, 17, 13, 16, 12, 15, 21, 14, 10, 16, 13, 17, 14,
    12, 15, 17, 13, 11, 16, 14, 18, 12, 15, 13, 16, 8, 14, 17, 13, 15, 19, 12, 16,
    16, 14, 11, 15, 18, 12, 14, 16, 13, 17, 11, 15, 14, 18, 12, 16, 13, 7, 15, 14,
    13, 16, 14, 12, 17, 15, 11, 16, 14, 20, 12, 15, 13, 17, 14, 11, 16, 13, 18, 14,
    15, 12, 17, 14, 11, 16, 13, 18, 15, 12, 14, 17, 5, 15, 13, 16, 12, 14, 17, 13,
]

irf_26 = [
    22, 28, 19, 25, 17, 31, 21, 24, 18, 27, 20, 23, 16, 29, 22, 19, 26, 21, 33, 18,
    24, 19, 27, 21, 17, 25, 23, 20, 28, 22, 36, 44, 58, 94, 155, 190, 250, 300, 490, 1700,
    3600, 12000, 18500, 20000, 17500, 12500, 8000, 4800, 1300, 330, 120, 85, 72, 66, 80, 74, 96, 86, 93, 81,
    88, 76, 79, 71, 68, 63, 60, 52, 56, 47, 45, 41, 38, 35, 34, 31, 30, 27, 29, 24,
    26, 23, 28, 21, 25, 19, 24, 27, 18, 23, 26, 20, 22, 17, 25, 21, 24, 19, 23, 26,
    21, 25, 18, 24, 29, 20, 23, 26, 17, 22, 27, 19, 24, 21, 31, 20, 23, 18, 25, 22,
    24, 19, 27, 22, 20, 26, 18, 23, 25, 21, 28, 19, 22, 24, 17, 26, 21, 23, 29, 20,
    22, 26, 19, 24, 21, 33, 20, 23, 18, 25, 22, 27, 19, 24, 21, 26, 18, 22, 25, 20,
    25, 21, 24, 18, 27, 22, 20, 26, 23, 19, 24, 30, 21, 23, 18, 25, 22, 27, 20, 24,
    19, 24, 22, 28, 20, 23, 25, 18, 26, 21, 24, 22, 35, 19, 23, 26, 20, 24, 21, 27,
    23, 20, 26, 22, 19, 25, 21, 28, 24, 18, 22, 26, 20, 23, 25, 19, 27, 22, 24, 21,
    26, 22, 19, 24, 21, 27, 23, 20, 25, 18, 24, 22, 29, 20, 23, 26, 21, 24, 19, 25,
    20, 25, 23, 18, 26, 22, 24, 21, 28, 19, 23, 25, 20, 24, 22, 17, 26, 23, 21, 27,
    24, 21, 26, 20, 23, 25, 19, 36, 22, 24, 20, 27, 23, 18, 25, 21, 24, 22, 28, 20,
    22, 26, 20, 24, 19, 23, 27, 21, 25, 22, 18, 24, 26, 20, 23, 29, 21, 25, 19, 24,
    25, 20, 23, 27, 21, 24, 19, 26, 22, 25, 31, 20, 24, 22, 18, 26, 23, 21, 27, 22,
    21, 24, 19, 26, 23, 20, 25, 22, 28, 21, 24, 19, 26, 23, 20, 25, 22, 33, 21, 24,
    23, 27, 21, 24, 20, 26, 22, 19, 25, 23, 21, 28, 24, 20, 26, 22, 18, 25, 23, 27,
    20, 24, 22, 26, 19, 23, 30, 21, 25, 22, 24, 20, 27, 23, 19, 25, 22, 26, 21, 24,
    26, 22, 25, 20, 24, 28, 21, 23, 19, 26, 22, 25, 21, 32, 24, 20, 23, 27, 22, 25,
]
irf_26_mid = [
    20, 25, 23, 18, 27, 21, 30, 19, 24, 22, 17, 26, 20, 28, 23, 19, 25, 21, 24, 29,
    21, 26, 18, 23, 30, 20, 24, 19, 26, 22, 40, 50, 75, 120, 170, 210, 270, 380, 900, 2600,
    7000, 16000, 19500, 19000, 15000, 10500, 6500, 2500, 600, 180, 95, 78, 70, 76, 64, 85, 90, 80, 98, 84,
    82, 90, 72, 74, 65, 70, 55, 58, 50, 53, 43, 46, 40, 36, 37, 32, 28, 31, 26, 27,
    24, 27, 20, 25, 22, 18, 26, 21, 23, 17, 24, 28, 19, 22, 25, 20, 23, 18, 27, 21,
    23, 19, 26, 21, 24, 28, 18, 25, 22, 20, 27, 23, 30, 19, 24, 22, 26, 17, 23, 25,
    20, 26, 22, 18, 25, 23, 29, 21, 24, 19, 26, 22, 20, 27, 23, 25, 19, 24, 31, 22,
    27, 21, 24, 20, 26, 19, 23, 25, 22, 28, 20, 24, 17, 25, 22, 26, 21, 23, 19, 24,
    22, 25, 19, 23, 21, 26, 24, 18, 27, 22, 20, 25, 23, 19, 28, 21, 24, 26, 20, 23,
    24, 20, 27, 22, 25, 18, 23, 21, 26, 24, 19, 23, 27, 21, 25, 20, 22, 29, 23, 19,
    21, 25, 23, 19, 27, 22, 24, 20, 26, 23, 21, 33, 24, 19, 22, 26, 20, 25, 23, 18,
    25, 21, 24, 27, 20, 23, 26, 19, 22, 25, 20, 24, 21, 27, 18, 23, 25, 22, 26, 20,
    23, 27, 20, 24, 22, 19, 25, 23, 21, 26, 24, 20, 23, 28, 21, 25, 19, 22, 24, 26,
    19, 24, 22, 26, 21, 23, 20, 25, 27, 22, 24, 19, 26, 21, 23, 25, 20, 24, 22, 30,
    24, 20, 25, 22, 27, 21, 23, 19, 24, 26, 22, 20, 25, 23, 21, 27, 24, 18, 23, 25,
    22, 26, 21, 24, 19, 25, 23, 27, 20, 22, 25, 23, 19, 26, 24, 21, 28, 22, 20, 24,
    26, 22, 24, 20, 25, 23, 21, 27, 19, 24, 22, 26, 21, 23, 25, 20, 24, 22, 26, 19,
    21, 25, 23, 26, 22, 19, 24, 21, 27, 23, 20, 25, 22, 24, 19, 26, 23, 21, 25, 30,
    25, 21, 24, 22, 20, 26, 23, 25, 21, 24, 27, 22, 19, 25, 23, 21, 26, 24, 20, 23,
    22, 26, 20, 25, 23, 21, 27, 24, 22, 19, 25, 23, 26, 21, 24, 22, 20, 25, 23, 28,
]

# weighted residuals from the first fitted channel onward (10.75 ns / 10.875 ns)
res_26 = [
    0.72, -1.85, 2.95, -0.35, 0.1, -2.4, 1.2, -0.8, 1.9, 0.4, -1.3, 0.6, -0.5, -2.55, 1.3, -0.9, 2.8,
    -0.7, 0.5, 1.3, -1.7, 0.3, -0.4, 2.05, -2.15, 0.8, 1.8, -0.6, 0.2, 2.8, -1.0, 0.6, -0.3, 1.0, -1.5, 0.4, -0.9,
    1.8, -0.5, 0.9, -1.8, 0.2, 1.7, -0.6, 0.5, -3.5, 0.3, -1.2, 2.6, -0.8, 0.9, -1.6, 1.3, 0.0, -1.7, 0.5, -0.3,
    2.5, -1.5, 0.4, 0.9, -0.6, 2.05, -2.55, 0.2, -0.9, 1.1, -1.6, 0.6, -0.2, -2.55, 0.8, -0.7, 2.15, -1.9, 0.0, 1.0,
    -0.7, 1.9, 0.3, -1.2, 1.0, -2.2, 0.5, -0.4, 1.5, 2.0, -0.9, 0.1, -1.4, 0.9, 0.4, -0.5, 1.2, 2.3, -0.8, 0.2,
    1.1, -1.6, 0.6, 0.0, 1.3, -0.6, 1.0, -0.3, 0.8, 2.1, -1.1, 0.4, -0.8, 1.2, -1.5, 0.5, 0.1, 1.9, -0.4, 0.7,
    -2.65, 0.3, 1.5, -0.9, 0.6, 1.1, -0.5, 2.5, 0.2, -1.2, 0.8, -0.3, 1.7, 0.4, -0.7, 1.0, -2.3, 0.5, -0.1, 1.2,
    -0.36, 0.71, -1.43, 0.00, 1.79, -1.07, 0.36, -2.14, -0.36, 1.07, -0.71, 0.00, -1.79, 0.71, -0.36, -1.07, 1.43, 0.00, -1.43, 0.36,
    -0.58, 0.51, -2.40, 0.15, 1.24, -0.95, -0.22, 1.96, -1.31, 0.15, -0.58, 0.87, -2.04, -0.22, 0.51, -0.95, 1.24, -0.22, -1.67, 0.15,
    1.04, -0.81, -0.07, 1.78, -0.44, -1.19, 0.30, 0.67, -2.30, -0.07, 1.41, -0.44, 0.30, -0.81, 2.52, -0.07, -1.56, 0.67, -0.44, 0.30,
    -0.81, 0.30, 1.41, -0.44, -1.56, 0.67, -0.07, -1.19, 1.04, 0.30, -3.04, -0.44, 1.78, -0.07, -0.81, 0.67, -0.44, 1.41, 0.30, -1.19,
    -0.07, -1.56, 0.67, -0.44, 1.04, -3.78, 0.30, -0.81, -0.07, 1.78, 2.52, 0.67, -0.44, 0.30, -1.93, -0.07, 1.41, -0.81, 0.30, -0.44,
    0.67, -0.81, 0.30, -1.93, -0.07, 1.41, -3.04, -1.19, 0.67, -0.07, 2.15, -0.81, 0.30, -1.56, 1.04, -0.44, -0.07, 0.67, -1.19, 0.30,
    -0.44, 1.04, -1.19, -0.07, 0.67, -0.81, 1.78, -0.07, -1.56, 0.30, -0.44, 1.41, -0.81, 0.67, -0.07, -2.30, 0.30, 1.04, -0.44, -1.19,
    0.30, -0.44, 1.41, -0.81, -0.07, 0.67, -1.56, 0.30, -0.44, 2.52, -0.07, -1.19, 0.67, -0.44, 1.04, -0.81, 0.30, -1.93, -0.07, 1.41,
    -0.81, 0.67, -0.07, -1.56, 1.04, -0.44, 0.30, 1.78, -1.19, -0.07, 0.67, -0.81, -0.44, 1.41, 0.30, -1.56, -0.07, 0.67, -0.81, 1.04,
    -0.07, -1.19, 0.67, -0.44, 2.15, -0.81, 0.30, -0.07, -1.93, 1.04, -0.44, 0.30, -1.19, 0.67, -3.78, -0.07, 1.41, -0.81, 0.30, -0.44,
    0.67, 2.52, -2.30, 0.30, -0.81, 1.04, -0.07, -1.56, 0.67, -0.44, 1.78, -1.19, 0.30, -0.07, -0.81, 1.04, -1.93, 0.30, -0.44, 0.67,
]
res_26_mid = [
    -1.2, 0.9, 2.1, -0.6, 1.5, -1.9, 0.3, -0.4, 1.1, -2.3, 0.7, 1.8, -1.0, 0.2, -1.5, 1.0, -0.3,
    0.8, -1.9, 1.6, -0.2, 1.1, -1.3, 0.6, -2.4, 1.4, 0.1, -0.8, 1.9, 0.4, -1.5, 0.9, -0.5, 2.0, -1.1, 0.2, 1.3,
    -0.4, 1.5, -1.4, 0.7, -0.9, 1.2, 0.0, -2.0, 1.8, -0.6, 0.5, -1.3, 1.0, -2.3, 0.3, 1.6, -0.8, 0.9, -1.6, 0.4,
    -0.8, 1.3, -1.1, 0.6, 1.7, -0.3, 0.9, -1.6, 0.2, 1.2, -2.0, 0.5, 1.5, -0.7, 0.0, 1.1, -1.3, 0.7, -0.4, 1.9,
    0.5, -1.5, 1.2, -0.3, 0.8, -1.9, 1.6, 0.1, -0.8, 1.0, -1.2, 0.4, 1.8, -0.6, 0.9, -1.4, 0.3, 1.3, -1.7, 0.6,
    -0.2, 1.4, -1.0, 0.5, 1.9, -0.7, 0.3, 1.1, -1.5, 0.8, 0.2, -0.4, 1.6, -1.2, 0.7, 1.0, -0.9, 0.4, 1.3, -0.6,
    0.9, -1.3, 0.4, 1.2, -0.5, 0.7, 1.6, -1.6, 0.2, 1.0, -0.3, 0.6, -1.1, 1.4, 0.3, -0.8, 1.1, -0.2, 0.8, -1.0,
    0.00, -1.07, 1.07, -0.71, 0.36, -1.79, -0.36, 0.71, -1.07, 1.43, 0.00, -1.43, 0.36, -0.71, 1.79, -0.36, -1.07, 0.71, -2.14, 0.00,
    0.51, -0.58, -1.31, 0.87, -0.22, 1.60, -0.95, 0.15, -1.67, 0.51, -0.22, 1.24, -0.58, -3.13, 0.15, 0.87, -0.95, -0.22, 1.60, -0.58,
    -0.81, 0.30, 1.04, -1.56, -0.07, 0.67, -0.44, 1.41, 0.30, -0.81, 0.67, -2.67, -0.07, 1.04, -0.44, 0.30, 2.15, -0.81, -0.07, 0.67,
    0.30, -1.19, -0.07, 1.04, -0.81, 1.78, -0.44, 0.30, 0.67, -2.30, -0.07, 1.41, -0.81, 0.30, -0.44, 1.04, -1.19, -0.07, 0.67, -0.81,
    -0.44, 1.04, -0.81, 0.30, 1.78, -0.07, -1.19, 0.67, -0.44, 0.30, -0.81, 1.04, -0.07, -2.67, 0.67, -0.44, 1.41, 0.30, -0.81, -0.07,
    1.04, -0.44, 0.30, -0.81, 0.67, -0.07, 1.78, -0.44, -1.56, 0.30, -0.44, 1.04, -0.07, -0.81, 1.41, 0.30, -1.19, 0.67, -0.44, 2.52,
    -0.07, 0.67, -0.81, 1.41, -0.44, 0.30, -1.19, -0.07, 1.04, -0.44, 0.67, -0.81, 0.30, 2.52, -0.07, -1.56, 0.67, -0.44, 1.04, -0.07,
    -0.81, 0.30, 1.04, -0.44, -1.19, 0.67, -0.07, 1.41, -0.81, 0.30, -0.44, 0.67, -2.30, -0.07, 1.04, -0.44, 0.30, 1.78, -0.81, 0.67,
    0.67, -0.07, -1.19, 0.30, 1.41, -0.81, -0.07, 0.67, -0.44, 1.04, -1.19, 0.30, -0.07, 1.41, -0.81, 0.67, -0.44, -2.67, 0.30, -0.07,
    -0.44, 0.67, -0.07, -0.81, 1.04, 0.30, -1.19, 0.67, -0.07, 2.15, -0.81, 0.30, -0.44, 1.04, -0.07, -1.19, 0.67, -0.44, 1.41, -0.07,
    0.30, -0.81, 1.04, -0.07, -1.19, 0.67, -0.44, 1.41, 0.30, -0.81, -0.07, 1.04, -3.41, 0.30, -0.44, 0.67, -0.81, -0.07, 1.04, -0.44,
]

fit_t_26 = [10.75, 11, 11.25, 11.5, 11.75, 12, 12.5, 13, 13.5, 14, 14.5, 15, 15.5, 16, 17, 18, 19, 20, 21, 22,
            23, 24, 25, 26, 27, 28, 30, 32, 34, 36, 38, 40, 43, 46, 50, 55, 60, 80, 100]
fit_26 = [10500, 8300, 6600, 5300, 4300, 3500, 2400, 1700, 1250, 920, 700, 540, 430, 350, 245, 180, 140, 110, 90, 76,
          64, 55, 48, 43, 38, 34, 29, 25.5, 22.5, 20.5, 19, 17.8, 16.5, 15.6, 14.8, 14.4, 14.2, 14.1, 14.1]

fit_start_25 = 25   # first fitted channel index (12.5 ns / 12.75 ns)
fit_start_26 = 43   # first fitted channel index (10.75 ns / 10.875 ns)

for arr in (t_25, t_25_mid, decay_25, decay_25_mid, irf_25, irf_25_mid,
            t_26, t_26_mid, decay_26, decay_26_mid, irf_26, irf_26_mid):
    assert len(arr) == 400
assert len(res_25) == len(res_25_mid) == 400 - fit_start_25
assert len(res_26) == len(res_26_mid) == 400 - fit_start_26
assert len(fit_t_25) == len(fit_25) and len(fit_t_26) == len(fit_26)

# ---------------- styling ----------------
FONT = "Arial, 'Liberation Sans', Helvetica, sans-serif"
INK = "#1a1a1a"
FRAME = "#3a3a3a"
RED = "#ff1a1a"
BLACK = "#000000"
BLUE = "#1f1fe8"
GREEN = "#118a11"
DOT = 2.4

W, H = 1137, 512
X_LEFT = [57 / W, 509 / W]
X_RIGHT = [667 / W, 1107 / W]
Y_TOP = [1 - 209 / H, 1 - 13 / H]
Y_BOT = [1 - 469 / H, 1 - 272.7 / H]


def x_axis(rng, major, minor, anchor):
    return dict(
        range=rng, anchor=anchor, tickvals=major, ticks="inside", ticklen=5, tickwidth=1,
        tickcolor=FRAME, showline=True, linecolor=FRAME, linewidth=1, mirror="ticks",
        showgrid=False, zeroline=False, automargin=False,
        tickfont=dict(family=FONT, size=14, color=INK),
        minor=dict(tickvals=minor, ticks="inside", ticklen=3, tickcolor=FRAME),
        title=dict(text="Time / ns", font=dict(family=FONT, size=16, color=INK), standoff=5),
    )


def log_axis(rng, anchor, domain):
    decades = [10, 100, 1000, 10000]
    minor = [m * d for d in [1, 10, 100, 1000, 10000] for m in range(2, 10)]
    return dict(
        type="log", range=rng, anchor=anchor, domain=domain,
        tickvals=decades, ticktext=["10<sup>1</sup>", "10<sup>2</sup>", "10<sup>3</sup>", "10<sup>4</sup>"],
        ticks="inside", ticklen=5, tickwidth=1, tickcolor=FRAME,
        showline=True, linecolor=FRAME, linewidth=1, mirror="ticks",
        showgrid=False, zeroline=False, automargin=False,
        tickfont=dict(family=FONT, size=14, color=INK),
        minor=dict(tickvals=minor, ticks="inside", ticklen=3, tickcolor=FRAME),
        title=dict(text="Signal / a.u.", font=dict(family=FONT, size=16, color=INK), standoff=2),
    )


def res_axis(rng, major, anchor, domain):
    minor = [v + 0.5 for v in major[:-1]]
    return dict(
        range=rng, anchor=anchor, domain=domain,
        tickvals=major, ticktext=[str(v) for v in major],
        ticks="inside", ticklen=5, tickwidth=1, tickcolor=FRAME,
        showline=True, linecolor=FRAME, linewidth=1, mirror="ticks",
        showgrid=False, zeroline=False, automargin=False,
        tickfont=dict(family=FONT, size=14, color=INK),
        minor=dict(tickvals=minor, ticks="inside", ticklen=3, tickcolor=FRAME),
        title=dict(text="Residuals", font=dict(family=FONT, size=16, color=INK), standoff=4),
    )


fig = go.Figure()

# decay panels
fig.add_trace(go.Scatter(x=t_25 + t_25_mid, y=decay_25 + decay_25_mid, mode="markers", name="Decay",
                         marker=dict(color=RED, size=DOT), xaxis="x", yaxis="y", legend="legend"))
fig.add_trace(go.Scatter(x=t_25 + t_25_mid, y=irf_25 + irf_25_mid, mode="markers", name="IRF 375 200 ns",
                         marker=dict(color=BLACK, size=DOT), xaxis="x", yaxis="y", legend="legend"))
fig.add_trace(go.Scatter(x=fit_t_25, y=fit_25, mode="lines", name="Fit",
                         line=dict(color=BLUE, width=2, shape="spline", smoothing=0.6),
                         xaxis="x", yaxis="y", legend="legend"))

fig.add_trace(go.Scatter(x=t_26 + t_26_mid, y=decay_26 + decay_26_mid, mode="markers", name="Decay",
                         marker=dict(color=RED, size=DOT), xaxis="x2", yaxis="y2", legend="legend2"))
fig.add_trace(go.Scatter(x=t_26 + t_26_mid, y=irf_26 + irf_26_mid, mode="markers", name="IRF 375 100 ns",
                         marker=dict(color=BLACK, size=DOT), xaxis="x2", yaxis="y2", legend="legend2"))
fig.add_trace(go.Scatter(x=fit_t_26, y=fit_26, mode="lines", name="Fit",
                         line=dict(color=BLUE, width=2, shape="spline", smoothing=0.6),
                         xaxis="x2", yaxis="y2", legend="legend2"))

# residual panels
fig.add_trace(go.Scatter(x=t_25[fit_start_25:] + t_25_mid[fit_start_25:], y=res_25 + res_25_mid,
                         mode="markers", showlegend=False,
                         marker=dict(color=GREEN, size=DOT), xaxis="x3", yaxis="y3"))
fig.add_trace(go.Scatter(x=t_26[fit_start_26:] + t_26_mid[fit_start_26:], y=res_26 + res_26_mid,
                         mode="markers", showlegend=False,
                         marker=dict(color=GREEN, size=DOT), xaxis="x4", yaxis="y4"))

legend_common = dict(
    xanchor="left", yanchor="top", bgcolor="rgba(0,0,0,0)", borderwidth=0,
    font=dict(family=FONT, size=14.5, color=INK), itemwidth=38, tracegroupgap=0,
)

fig.update_layout(
    width=W, height=H,
    margin=dict(l=0, r=0, t=0, b=0),
    paper_bgcolor="white", plot_bgcolor="white",
    font=dict(family=FONT, color=INK),
    xaxis=dict(domain=X_LEFT, **x_axis([0, 200], [0, 50, 100, 150, 200], [25, 75, 125, 175], "y")),
    yaxis=log_axis([0.477, 4.61], "x", Y_TOP),
    xaxis2=dict(domain=X_RIGHT, **x_axis([0, 100], [0, 20, 40, 60, 80, 100], [10, 30, 50, 70, 90], "y2")),
    yaxis2=log_axis([0.32, 4.57], "x2", Y_TOP),
    xaxis3=dict(domain=X_LEFT, **x_axis([0, 200], [0, 50, 100, 150, 200], [25, 75, 125, 175], "y3")),
    yaxis3=res_axis([-3.5, 3.5], [-3, -2, -1, 0, 1, 2, 3], "x3", Y_BOT),
    xaxis4=dict(domain=X_RIGHT, **x_axis([0, 100], [0, 20, 40, 60, 80, 100], [10, 30, 50, 70, 90], "y4")),
    yaxis4=res_axis([-4, 4], [-4, -3, -2, -1, 0, 1, 2, 3, 4], "x4", Y_BOT),
    legend=dict(x=341 / W, y=1 - 13 / H,
                title=dict(text="CTF-25 λ<sub><i>em</i></sub>= 506 nm",
                           font=dict(family=FONT, size=16, color=INK)),
                **legend_common),
    legend2=dict(x=943 / W, y=1 - 13 / H,
                 title=dict(text="CTF-26 λ<sub><i>em</i></sub>= 440 nm",
                            font=dict(family=FONT, size=16, color=INK)),
                 **legend_common),
    annotations=[
        dict(text="Residuals", x=502 / W, y=1 - 286.7 / H, xref="paper", yref="paper",
             xanchor="right", yanchor="middle", showarrow=False,
             font=dict(family=FONT, size=16, color=INK)),
        dict(text="Residuals", x=1103 / W, y=1 - 286 / H, xref="paper", yref="paper",
             xanchor="right", yanchor="middle", showarrow=False,
             font=dict(family=FONT, size=16, color=INK)),
    ],
    showlegend=True,
)

fig.write_html("out.html")
